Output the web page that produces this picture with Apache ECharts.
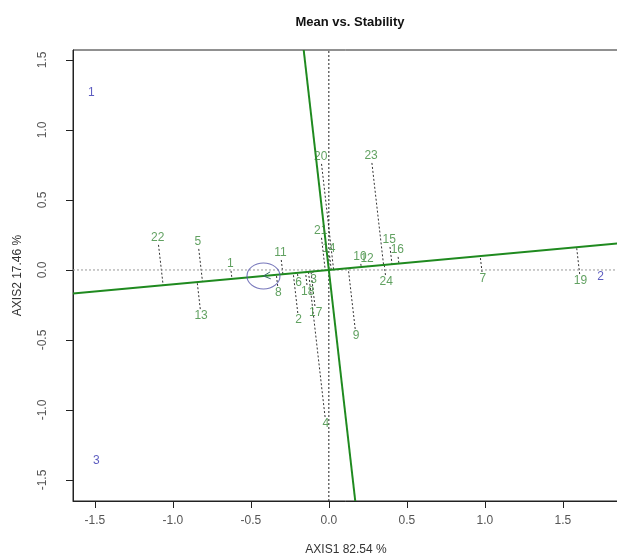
<!DOCTYPE html>
<html>
<head>
<meta charset="utf-8">
<title>Mean vs. Stability</title>
<script src="https://cdn.jsdelivr.net/npm/echarts@6.0.0/dist/echarts.min.js"></script>
<style>
  html, body { margin: 0; padding: 0; background: #fff; }
  #graph { width: 617px; height: 558px; }
</style>
</head>
<body>
<div id="graph"></div>
<script>
// genotype scores (AXIS1, AXIS2)
var genoNames = ['1','2','3','4','5','6','7','8','9','10','11','12','13','14','15','16','17','18','19','20','21','22','23','24'];
var genoX = [-0.632,-0.194,-0.097,-0.019,-0.839,-0.194,0.987,-0.323,0.174,0.200,-0.310,0.245,-0.819,0.000,0.387,0.439,-0.084,-0.135,1.613,-0.052,-0.052,-1.097,0.271,0.368];
var genoY = [0.043,-0.357,-0.071,-1.100,0.200,-0.093,-0.064,-0.164,-0.471,0.093,0.121,0.079,-0.329,0.150,0.214,0.143,-0.307,-0.157,-0.079,0.807,0.279,0.229,0.814,-0.086];

// environment scores
var envNames = ['1','2','3'];
var envX = [-1.523, 1.742, -1.490];
var envY = [1.264, -0.050, -1.364];

// average environment coordinate
var avgEnv = [-0.419, -0.043];

// axes
var xMin = -1.64, xMax = 1.86;
var yMin = -1.65, yMax = 1.571;
var tickValues = [-1.5, -1.0, -0.5, 0.0, 0.5, 1.0, 1.5];

var chart = echarts.init(document.getElementById('graph'));

var slope = avgEnv[1] / avgEnv[0];

// projection of each genotype on the average environment axis
function project(x, y) {
  var t = (x + y * slope) / (1 + slope * slope);
  return [t, t * slope];
}

var segData = [];
for (var i = 0; i < genoNames.length; i++) {
  var p = project(genoX[i], genoY[i]);
  segData.push([genoX[i], genoY[i], p[0], p[1]]);
}

var fontFam = '"Liberation Sans", Arial, sans-serif';

chart.setOption({
  backgroundColor: '#fff',
  animation: false,
  title: {
    text: 'Mean vs. Stability',
    left: 345,
    top: 11,
    textAlign: 'center',
    textStyle: { fontSize: 13, fontWeight: 'bold', color: '#111', fontFamily: fontFam }
  },
  grid: {
    left: 73, right: -2, top: 50, bottom: 57,
    outerBoundsMode: 'none', containLabel: false,
    show: true, borderColor: '#222', borderWidth: 1, backgroundColor: 'transparent'
  },
  xAxis: {
    type: 'value', min: xMin, max: xMax,
    name: 'AXIS1 82.54 %', nameLocation: 'middle', nameGap: 43,
    nameTextStyle: { fontSize: 12, color: '#333', fontFamily: fontFam },
    splitLine: { show: false },
    axisLine: { show: true, onZero: false, lineStyle: { color: '#222', width: 1 } },
    axisTick: { show: true, length: 7, customValues: tickValues, lineStyle: { color: '#222' } },
    axisLabel: {
      customValues: tickValues, margin: 14, fontSize: 12, color: '#555', fontFamily: fontFam,
      formatter: function (v) { return v.toFixed(1); }
    }
  },
  yAxis: {
    type: 'value', min: yMin, max: yMax,
    name: 'AXIS2 17.46 %', nameLocation: 'middle', nameGap: 49,
    nameTextStyle: { fontSize: 12, color: '#333', fontFamily: fontFam },
    splitLine: { show: false },
    axisLine: { show: true, onZero: false, lineStyle: { color: '#222', width: 1 } },
    axisTick: { show: true, length: 7, customValues: tickValues, lineStyle: { color: '#222' } },
    axisLabel: {
      customValues: tickValues, margin: 24, rotate: 90, fontSize: 12, color: '#555', fontFamily: fontFam,
      formatter: function (v) { return v.toFixed(1); }
    }
  },
  series: [
    { // zero reference lines
      type: 'line', silent: true, symbol: 'none', showSymbol: false,
      data: [[xMin, 0], [xMax, 0]],
      lineStyle: { color: '#999', width: 1, type: [2, 2] }
    },
    {
      type: 'line', silent: true, symbol: 'none', showSymbol: false,
      data: [[0, yMin], [0, yMax]],
      lineStyle: { color: '#222', width: 1, type: [2, 2] }
    },
    { // projections onto the AEA
      type: 'custom', silent: true, clip: true,
      data: segData,
      renderItem: function (params, api) {
        var a = api.coord([api.value(0), api.value(1)]);
        var b = api.coord([api.value(2), api.value(3)]);
        var dx = b[0] - a[0], dy = b[1] - a[1];
        var len = Math.sqrt(dx * dx + dy * dy);
        var gap = 7;
        if (len <= gap) return null;
        var s = [a[0] + dx / len * gap, a[1] + dy / len * gap];
        return {
          type: 'line',
          shape: { x1: s[0], y1: s[1], x2: b[0], y2: b[1] },
          style: { stroke: '#333', lineWidth: 1, lineDash: [2, 2] }
        };
      }
    },
    { // average environment axis (abscissa)
      type: 'line', silent: true, symbol: 'none', showSymbol: false, z: 3,
      data: [[xMin, xMin * slope], [xMax, xMax * slope]],
      lineStyle: { color: '#1f8a1f', width: 2 }
    },
    { // ordinate
      type: 'line', silent: true, symbol: 'none', showSymbol: false, z: 3,
      data: [[-yMax * slope, yMax], [-yMin * slope, yMin]],
      lineStyle: { color: '#1f8a1f', width: 2 }
    },
    { // small arrow head pointing at the average environment
      type: 'custom', silent: true, z: 4,
      data: [[0, 0, avgEnv[0], avgEnv[1]]],
      renderItem: function (params, api) {
        var a = api.coord([api.value(0), api.value(1)]);
        var b = api.coord([api.value(2), api.value(3)]);
        var dx = b[0] - a[0], dy = b[1] - a[1];
        var len = Math.sqrt(dx * dx + dy * dy);
        var ux = dx / len, uy = dy / len;
        var hl = 7, hw = 3.5;
        var bx = b[0] - ux * hl, by = b[1] - uy * hl;
        return {
          type: 'polyline',
          shape: { points: [[bx - uy * hw, by + ux * hw], b, [bx + uy * hw, by - ux * hw]] },
          style: { stroke: '#3a6a6a', lineWidth: 1, fill: null }
        };
      }
    },
    { // average environment circle
      type: 'scatter', silent: true, z: 4,
      symbol: 'circle', symbolSize: [33, 26],
      data: [avgEnv],
      itemStyle: { color: 'rgba(0,0,0,0)', borderColor: '#5555aa', borderWidth: 1 }
    },
    { // genotype labels
      type: 'scatter', silent: true, z: 5,
      symbolSize: 0,
      data: genoNames.map(function (n, i) { return { name: n, value: [genoX[i], genoY[i]] }; }),
      label: {
        show: true, position: 'inside', formatter: '{b}',
        fontSize: 12, color: '#3a8a3a', fontFamily: fontFam
      }
    },
    { // environment labels
      type: 'scatter', silent: true, z: 5,
      symbolSize: 0,
      data: envNames.map(function (n, i) { return { name: n, value: [envX[i], envY[i]] }; }),
      label: {
        show: true, position: 'inside', formatter: '{b}',
        fontSize: 12, color: '#3535b0', fontFamily: fontFam
      }
    }
  ]
});
</script>
</body>
</html>
